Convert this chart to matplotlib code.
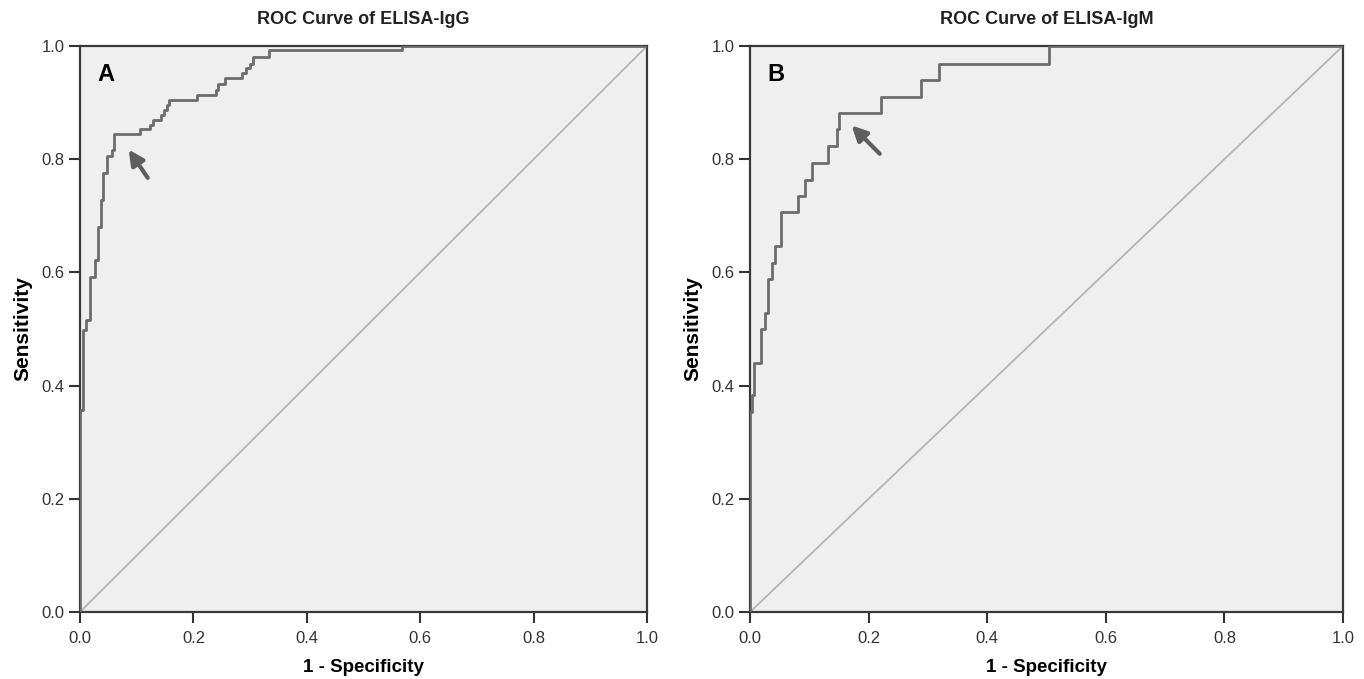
import matplotlib
matplotlib.use('Agg')
import matplotlib.pyplot as plt

plt.rcParams['font.family'] = ['Liberation Sans', 'DejaVu Sans']

# ROC points: vertical steps at each fpr up to the tpr level
fpr_igg = [0, 0, 0.005, 0.011, 0.018, 0.026, 0.032, 0.037, 0.041, 0.047, 0.056, 0.060,
           0.106, 0.123, 0.129, 0.142, 0.148, 0.153, 0.156, 0.206, 0.239, 0.244, 0.256,
           0.286, 0.293, 0.299, 0.305, 0.333, 0.568, 1.0]
tpr_igg = [0, 0.357, 0.498, 0.516, 0.592, 0.622, 0.681, 0.728, 0.775, 0.806, 0.816, 0.845,
           0.853, 0.860, 0.869, 0.878, 0.887, 0.896, 0.905, 0.913, 0.922, 0.933, 0.943,
           0.953, 0.961, 0.969, 0.980, 0.992, 1.0, 1.0]

fpr_igm = [0, 0, 0.004, 0.007, 0.019, 0.026, 0.030, 0.037, 0.042, 0.052, 0.081, 0.093,
           0.105, 0.131, 0.147, 0.150, 0.221, 0.288, 0.318, 0.504, 1.0]
tpr_igm = [0, 0.353, 0.383, 0.440, 0.500, 0.529, 0.588, 0.617, 0.647, 0.706, 0.735, 0.764,
           0.794, 0.823, 0.853, 0.881, 0.910, 0.940, 0.969, 1.0, 1.0]

titles = ['ROC Curve of ELISA-IgG', 'ROC Curve of ELISA-IgM']
panel_labels = ['A', 'B']
# arrow (tip, tail) pointing at the chosen cut-off
arrow_tips = [(0.083, 0.821), (0.168, 0.863)]
arrow_tails = [(0.122, 0.763), (0.222, 0.806)]
ticks = [0.0, 0.2, 0.4, 0.6, 0.8, 1.0]

fig = plt.figure(figsize=(13.64, 6.79), dpi=100)
ax_a = fig.add_axes([0.0587, 0.0987, 0.4157, 0.8336])
ax_b = fig.add_axes([0.5499, 0.0987, 0.4347, 0.8336])

curves = [(fpr_igg, tpr_igg), (fpr_igm, tpr_igm)]
for ax, (fpr, tpr), title, lab, tip, tail in zip([ax_a, ax_b], curves, titles,
                                                 panel_labels, arrow_tips, arrow_tails):
    ax.set_facecolor('#efefef')
    ax.plot([0, 1], [0, 1], color='#b4b4b4', lw=1.3, zorder=2)
    ax.plot(fpr, tpr, drawstyle='steps-post', color='#6c6c6c', lw=2.0, zorder=3)
    ax.set_xlim(0, 1)
    ax.set_ylim(0, 1)
    ax.set_xticks(ticks)
    ax.set_yticks(ticks)
    ax.set_xticklabels(['%.1f' % t for t in ticks])
    ax.set_yticklabels(['%.1f' % t for t in ticks])
    ax.tick_params(direction='out', length=8, width=1.5, color='#333333',
                   labelsize=12, labelcolor='#333333')
    ax.tick_params(axis='x', pad=6)
    ax.tick_params(axis='y', pad=3)
    for sp in ax.spines.values():
        sp.set_color('#3a3a3a')
        sp.set_linewidth(1.6)
    ax.set_title(title, fontsize=13, fontweight='bold', color='#222222', pad=16)
    ax.set_xlabel('1 - Specificity', fontsize=13.5, fontweight='bold', labelpad=9)
    ax.set_ylabel('Sensitivity', fontsize=15, fontweight='bold', labelpad=7)
    ax.text(0.03, 0.95, lab, fontsize=17, fontweight='bold', va='center', ha='left',
            transform=ax.transAxes)
    ax.annotate('', xy=tip, xytext=tail,
                arrowprops=dict(arrowstyle='-|>,head_length=0.9,head_width=0.45',
                                color='#5e5e5e', lw=3.0))

fig.savefig('out.png', dpi=100)
